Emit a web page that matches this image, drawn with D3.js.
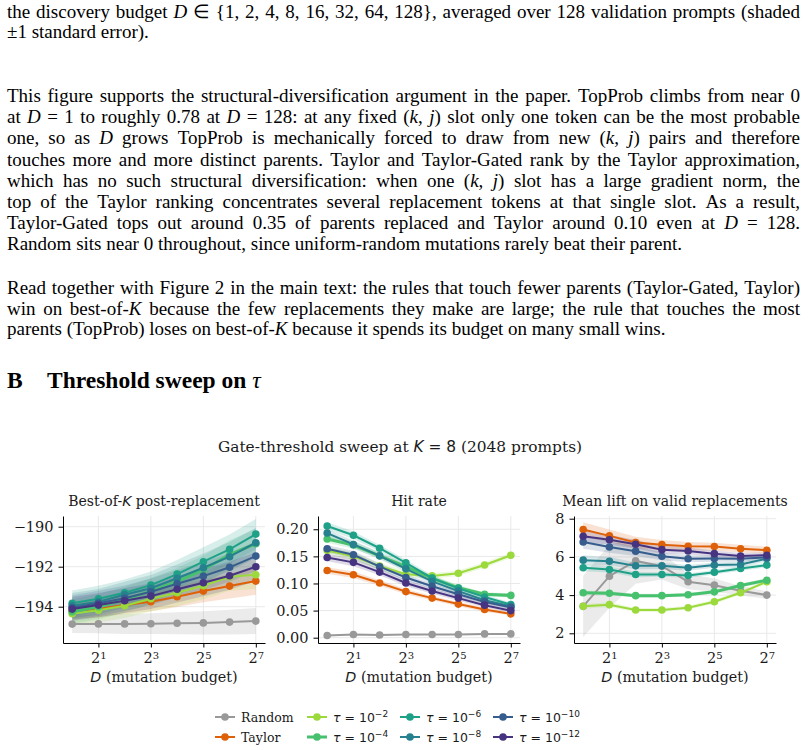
<!DOCTYPE html>
<meta charset="utf-8">
<style>
  body { margin: 0; background: #fff; }
  svg { display: block; }
  .body-text { font-family: "Liberation Serif", "Times New Roman", serif; font-size: 19px; fill: #000; }
  .mpl { font-family: "DejaVu Serif", serif; fill: #1a1a1a; }
  .msans { font-family: "DejaVu Sans", sans-serif; }
  .axis path, .axis line { stroke: #000; stroke-width: 1; }
  .axis text { font-family: "DejaVu Serif", serif; font-size: 14.5px; fill: #1a1a1a; }
  .grid line { stroke: #e9e9e9; stroke-width: 1; }
</style>
<body></body>
<script src="https://d3js.org/d3.v7.min.js"></script>
<script>

// ---- page text ----
var introLines = [
  "the discovery budget _D_ ∈ {1, 2, 4, 8, 16, 32, 64, 128}, averaged over 128 validation prompts (shaded",
  "±1 standard error)."
];
var para1Lines = [
  "This figure supports the structural-diversification argument in the paper. TopProb climbs from near 0",
  "at _D_ = 1 to roughly 0.78 at _D_ = 128: at any fixed (_k_, _j_) slot only one token can be the most probable",
  "one, so as _D_ grows TopProb is mechanically forced to draw from new (_k_, _j_) pairs and therefore",
  "touches more and more distinct parents. Taylor and Taylor-Gated rank by the Taylor approximation,",
  "which has no such structural diversification: when one (_k_, _j_) slot has a large gradient norm, the",
  "top of the Taylor ranking concentrates several replacement tokens at that single slot. As a result,",
  "Taylor-Gated tops out around 0.35 of parents replaced and Taylor around 0.10 even at _D_ = 128.",
  "Random sits near 0 throughout, since uniform-random mutations rarely beat their parent."
];
var para2Lines = [
  "Read together with Figure 2 in the main text: the rules that touch fewer parents (Taylor-Gated, Taylor)",
  "win on best-of-_K_ because the few replacements they make are large; the rule that touches the most",
  "parents (TopProb) loses on best-of-_K_ because it spends its budget on many small wins."
];

// ---- chart data ----
var budgets = [1, 2, 4, 8, 16, 32, 64, 128];
var seriesNames = ["Random", "Taylor", "-2", "-4", "-6", "-8", "-10", "-12"];

// order: Random, Taylor, tau=1e-2, 1e-4, 1e-6, 1e-8, 1e-10, 1e-12
var bestMean = [
  [-194.87, -194.86, -194.86, -194.85, -194.83, -194.81, -194.77, -194.72],
  [-194.22, -194.12, -193.92, -193.75, -193.50, -193.22, -192.97, -192.72],
  [-194.35, -194.18, -193.95, -193.60, -193.30, -192.95, -192.50, -192.40],
  [-194.25, -194.00, -193.65, -193.22, -192.75, -192.15, -191.40, -190.85],
  [-193.83, -193.60, -193.30, -192.92, -192.37, -191.75, -191.13, -190.37],
  [-193.95, -193.75, -193.40, -193.08, -192.58, -192.05, -191.50, -190.80],
  [-194.05, -193.83, -193.58, -193.25, -192.85, -192.47, -192.03, -191.47],
  [-194.12, -193.92, -193.70, -193.47, -193.13, -192.80, -192.45, -192.00]
];
var bestSE = [
  [0.45, 0.47, 0.50, 0.52, 0.55, 0.58, 0.62, 0.65],
  [0.40, 0.42, 0.45, 0.48, 0.52, 0.56, 0.62, 0.68],
  [0.60, 0.61, 0.62, 0.64, 0.66, 0.68, 0.70, 0.72],
  [0.62, 0.63, 0.64, 0.66, 0.68, 0.70, 0.72, 0.74],
  [0.64, 0.65, 0.66, 0.68, 0.70, 0.72, 0.74, 0.76],
  [0.63, 0.64, 0.65, 0.67, 0.69, 0.71, 0.73, 0.75],
  [0.62, 0.63, 0.64, 0.66, 0.68, 0.70, 0.72, 0.74],
  [0.60, 0.61, 0.62, 0.64, 0.66, 0.68, 0.70, 0.72]
];
var hitMean = [
  [0.004, 0.006, 0.005, 0.006, 0.006, 0.006, 0.007, 0.007],
  [0.124, 0.116, 0.101, 0.085, 0.073, 0.062, 0.052, 0.044],
  [0.161, 0.150, 0.132, 0.117, 0.114, 0.119, 0.134, 0.152],
  [0.182, 0.171, 0.151, 0.131, 0.110, 0.092, 0.080, 0.078],
  [0.206, 0.189, 0.165, 0.138, 0.110, 0.091, 0.075, 0.061],
  [0.193, 0.172, 0.151, 0.127, 0.104, 0.086, 0.069, 0.058],
  [0.164, 0.153, 0.131, 0.111, 0.095, 0.080, 0.066, 0.056],
  [0.148, 0.139, 0.121, 0.101, 0.086, 0.073, 0.060, 0.050]
];
var hitSE = [
  [0.001, 0.001, 0.001, 0.001, 0.001, 0.001, 0.001, 0.001],
  [0.006, 0.006, 0.005, 0.005, 0.004, 0.004, 0.004, 0.003],
  [0.007, 0.007, 0.006, 0.006, 0.005, 0.005, 0.005, 0.005],
  [0.007, 0.007, 0.006, 0.006, 0.005, 0.005, 0.004, 0.004],
  [0.007, 0.007, 0.006, 0.006, 0.005, 0.005, 0.004, 0.004],
  [0.007, 0.007, 0.006, 0.006, 0.005, 0.005, 0.004, 0.004],
  [0.007, 0.007, 0.006, 0.006, 0.005, 0.005, 0.004, 0.004],
  [0.007, 0.007, 0.006, 0.006, 0.005, 0.005, 0.004, 0.004]
];
var liftMean = [
  [3.41, 4.99, 5.79, 5.51, 4.70, 4.52, 4.23, 4.00],
  [7.43, 7.10, 6.75, 6.64, 6.56, 6.54, 6.43, 6.35],
  [3.41, 3.50, 3.22, 3.22, 3.34, 3.65, 4.12, 4.70],
  [4.12, 4.10, 3.97, 3.97, 4.02, 4.17, 4.50, 4.78],
  [5.43, 5.34, 5.08, 5.08, 5.03, 5.20, 5.39, 5.57],
  [5.83, 5.77, 5.53, 5.53, 5.43, 5.57, 5.60, 5.91],
  [6.78, 6.52, 6.30, 6.03, 5.90, 5.91, 5.90, 5.98],
  [7.08, 6.90, 6.66, 6.38, 6.31, 6.17, 6.05, 6.09]
];
var liftSE = [
  [1.60, 1.65, 1.20, 0.70, 0.40, 0.35, 0.25, 0.20],
  [0.38, 0.33, 0.30, 0.25, 0.22, 0.20, 0.20, 0.18],
  [0.12, 0.12, 0.10, 0.10, 0.10, 0.10, 0.10, 0.10],
  [0.12, 0.10, 0.10, 0.10, 0.10, 0.10, 0.10, 0.10],
  [0.18, 0.16, 0.14, 0.12, 0.12, 0.12, 0.12, 0.12],
  [0.25, 0.22, 0.18, 0.16, 0.15, 0.14, 0.14, 0.14],
  [0.35, 0.30, 0.25, 0.20, 0.18, 0.16, 0.15, 0.15],
  [0.30, 0.26, 0.22, 0.20, 0.18, 0.16, 0.15, 0.15]
];
var xTicks = [2, 8, 32, 128];

var colors = ["#999999", "#de6109"].concat(
  [0.85, 0.71, 0.57, 0.43, 0.29, 0.15].map(d3.interpolateViridis));
var lineWidths = [2, 2, 2, 3, 2, 2, 2, 2];

var svg = d3.select("body").append("svg")
    .attr("width", 808)
    .attr("height", 750);

// ---- text block ----
var textG = svg.append("g").attr("class", "body-text");

function drawLine(str, y, justify) {
  var left = 7, width = 793;
  var words = str.split(" ");
  var nodes = words.map(function (w) {
    var t = textG.append("text").attr("y", y);
    w.split("_").forEach(function (part, i) {
      if (part) t.append("tspan").attr("font-style", i % 2 ? "italic" : null).text(part);
    });
    return t;
  });
  var widths = nodes.map(function (t) { return t.node().getComputedTextLength(); });
  var gap = justify ? (width - d3.sum(widths)) / (words.length - 1) : 4.75;
  var cx = left;
  nodes.forEach(function (t, i) {
    t.attr("x", cx);
    cx += widths[i] + gap;
  });
}

function drawPara(lines, y0, step) {
  lines.forEach(function (l, i) {
    drawLine(l, y0 + i * step, i < lines.length - 1);
  });
}

drawPara(introLines, 18, 20);
drawPara(para1Lines, 102, 21.2);
drawPara(para2Lines, 294, 20.5);

var head = svg.append("text")
    .attr("class", "body-text")
    .attr("y", 388)
    .style("font-size", "23.5px")
    .style("font-weight", "bold");
head.append("tspan").attr("x", 7).text("B");
head.append("tspan").attr("x", 47).text("Threshold sweep on ");
head.append("tspan").style("font-weight", "normal").style("font-style", "italic").text("τ");

// ---- figure ----
var sup = svg.append("text")
    .attr("class", "mpl")
    .attr("x", 400)
    .attr("y", 452)
    .attr("text-anchor", "middle")
    .style("font-size", "15.4px");
sup.append("tspan").text("Gate-threshold sweep at ");
sup.append("tspan").attr("class", "msans").style("font-style", "italic").text("K");
sup.append("tspan").attr("class", "msans").text(" = 8");
sup.append("tspan").text(" (2048 prompts)");

var panels = [
  {title: ["Best-of-", "K", " post-replacement"], mean: bestMean, se: bestSE,
   x0: 63, x1: 265, yDomain: [-195.815, -189.465], yTicks: [-194, -192, -190], fmt: d3.format("d")},
  {title: ["Hit rate"], mean: hitMean, se: hitSE,
   x0: 318, x1: 520, yDomain: [-0.0098, 0.2245], yTicks: [0, 0.05, 0.1, 0.15, 0.2], fmt: d3.format(".2f")},
  {title: ["Mean lift on valid replacements"], mean: liftMean, se: liftSE,
   x0: 574, x1: 776, yDomain: [1.492, 8.141], yTicks: [2, 4, 6, 8], fmt: d3.format("d")}
];
var yTop = 516, yBottom = 643;

panels.forEach(function (p) {
  var g = svg.append("g");
  var x = d3.scaleLog().base(2)
      .domain([Math.pow(2, -0.35), Math.pow(2, 7.35)])
      .range([p.x0, p.x1]);
  var y = d3.scaleLinear().domain(p.yDomain).range([yBottom, yTop]);

  // grid
  var grid = g.append("g").attr("class", "grid");
  grid.selectAll(".gx").data(xTicks).join("line")
      .attr("x1", x).attr("x2", x).attr("y1", yTop).attr("y2", yBottom);
  grid.selectAll(".gy").data(p.yTicks).join("line")
      .attr("x1", p.x0).attr("x2", p.x1).attr("y1", y).attr("y2", y);

  // bands
  var area = d3.area()
      .x(function (d, i) { return x(budgets[i]); })
      .y0(function (d) { return y(d[0] - d[1]); })
      .y1(function (d) { return y(d[0] + d[1]); });
  p.mean.forEach(function (m, s) {
    g.append("path")
        .datum(m.map(function (v, i) { return [v, p.se[s][i]]; }))
        .attr("d", area)
        .attr("fill", colors[s])
        .attr("fill-opacity", s === 0 ? 0.2 : 0.18);
  });

  // lines and markers
  var line = d3.line()
      .x(function (d, i) { return x(budgets[i]); })
      .y(function (d) { return y(d); });
  p.mean.forEach(function (m, s) {
    g.append("path")
        .datum(m)
        .attr("d", line)
        .attr("fill", "none")
        .attr("stroke", colors[s])
        .attr("stroke-width", lineWidths[s]);
    g.selectAll(null).data(m).join("circle")
        .attr("cx", function (d, i) { return x(budgets[i]); })
        .attr("cy", function (d) { return y(d); })
        .attr("r", 3.8)
        .attr("fill", colors[s]);
  });

  // axes
  g.append("g")
      .attr("class", "axis")
      .attr("transform", "translate(" + p.x0 + ",0)")
      .call(d3.axisLeft(y).tickValues(p.yTicks).tickFormat(p.fmt)
        .tickSize(4.5).tickPadding(5).tickSizeOuter(0));

  var xa = g.append("g")
      .attr("class", "axis")
      .attr("transform", "translate(0," + yBottom + ")")
      .call(d3.axisBottom(x).tickValues(xTicks)
        .tickSize(4.5).tickPadding(5).tickSizeOuter(0));
  xa.selectAll(".tick text").each(function (d) {
    var t = d3.select(this).text(null);
    t.append("tspan").text("2");
    t.append("tspan").attr("dy", "-0.42em").style("font-size", "10px").text(Math.round(Math.log2(d)));
  });

  var cx = (p.x0 + p.x1) / 2;
  var title = g.append("text")
      .attr("class", "mpl")
      .attr("x", cx).attr("y", 506)
      .attr("text-anchor", "middle")
      .style("font-size", "14px");
  p.title.forEach(function (part, i) {
    var ts = title.append("tspan").text(part);
    if (i === 1) ts.attr("class", "msans").style("font-style", "italic");
  });

  var xl = g.append("text")
      .attr("class", "mpl")
      .attr("x", cx).attr("y", 682)
      .attr("text-anchor", "middle")
      .style("font-size", "14.3px");
  xl.append("tspan").attr("class", "msans").style("font-style", "italic").text("D");
  xl.append("tspan").text(" (mutation budget)");
});

// ---- legend ----
var legX = [215, 307, 400, 493], legY = [717, 737];
var leg = svg.append("g");
seriesNames.forEach(function (name, s) {
  var lx = legX[Math.floor(s / 2)], ly = legY[s % 2];
  leg.append("line")
      .attr("x1", lx).attr("x2", lx + 20).attr("y1", ly).attr("y2", ly)
      .attr("stroke", colors[s]).attr("stroke-width", lineWidths[s]);
  leg.append("circle").attr("cx", lx + 10).attr("cy", ly).attr("r", 3.8).attr("fill", colors[s]);
  var t = leg.append("text")
      .attr("x", lx + 26).attr("y", ly + 4.5)
      .style("font-size", "12.5px");
  if (s < 2) {
    t.attr("class", "mpl").text(name);
  } else {
    t.attr("class", "msans").style("fill", "#1a1a1a");
    t.append("tspan").style("font-style", "italic").text("τ");
    t.append("tspan").text(" = 10");
    t.append("tspan").attr("dy", "-0.45em").style("font-size", "9px").text(name.replace("-", "−"));
  }
});
</script>
